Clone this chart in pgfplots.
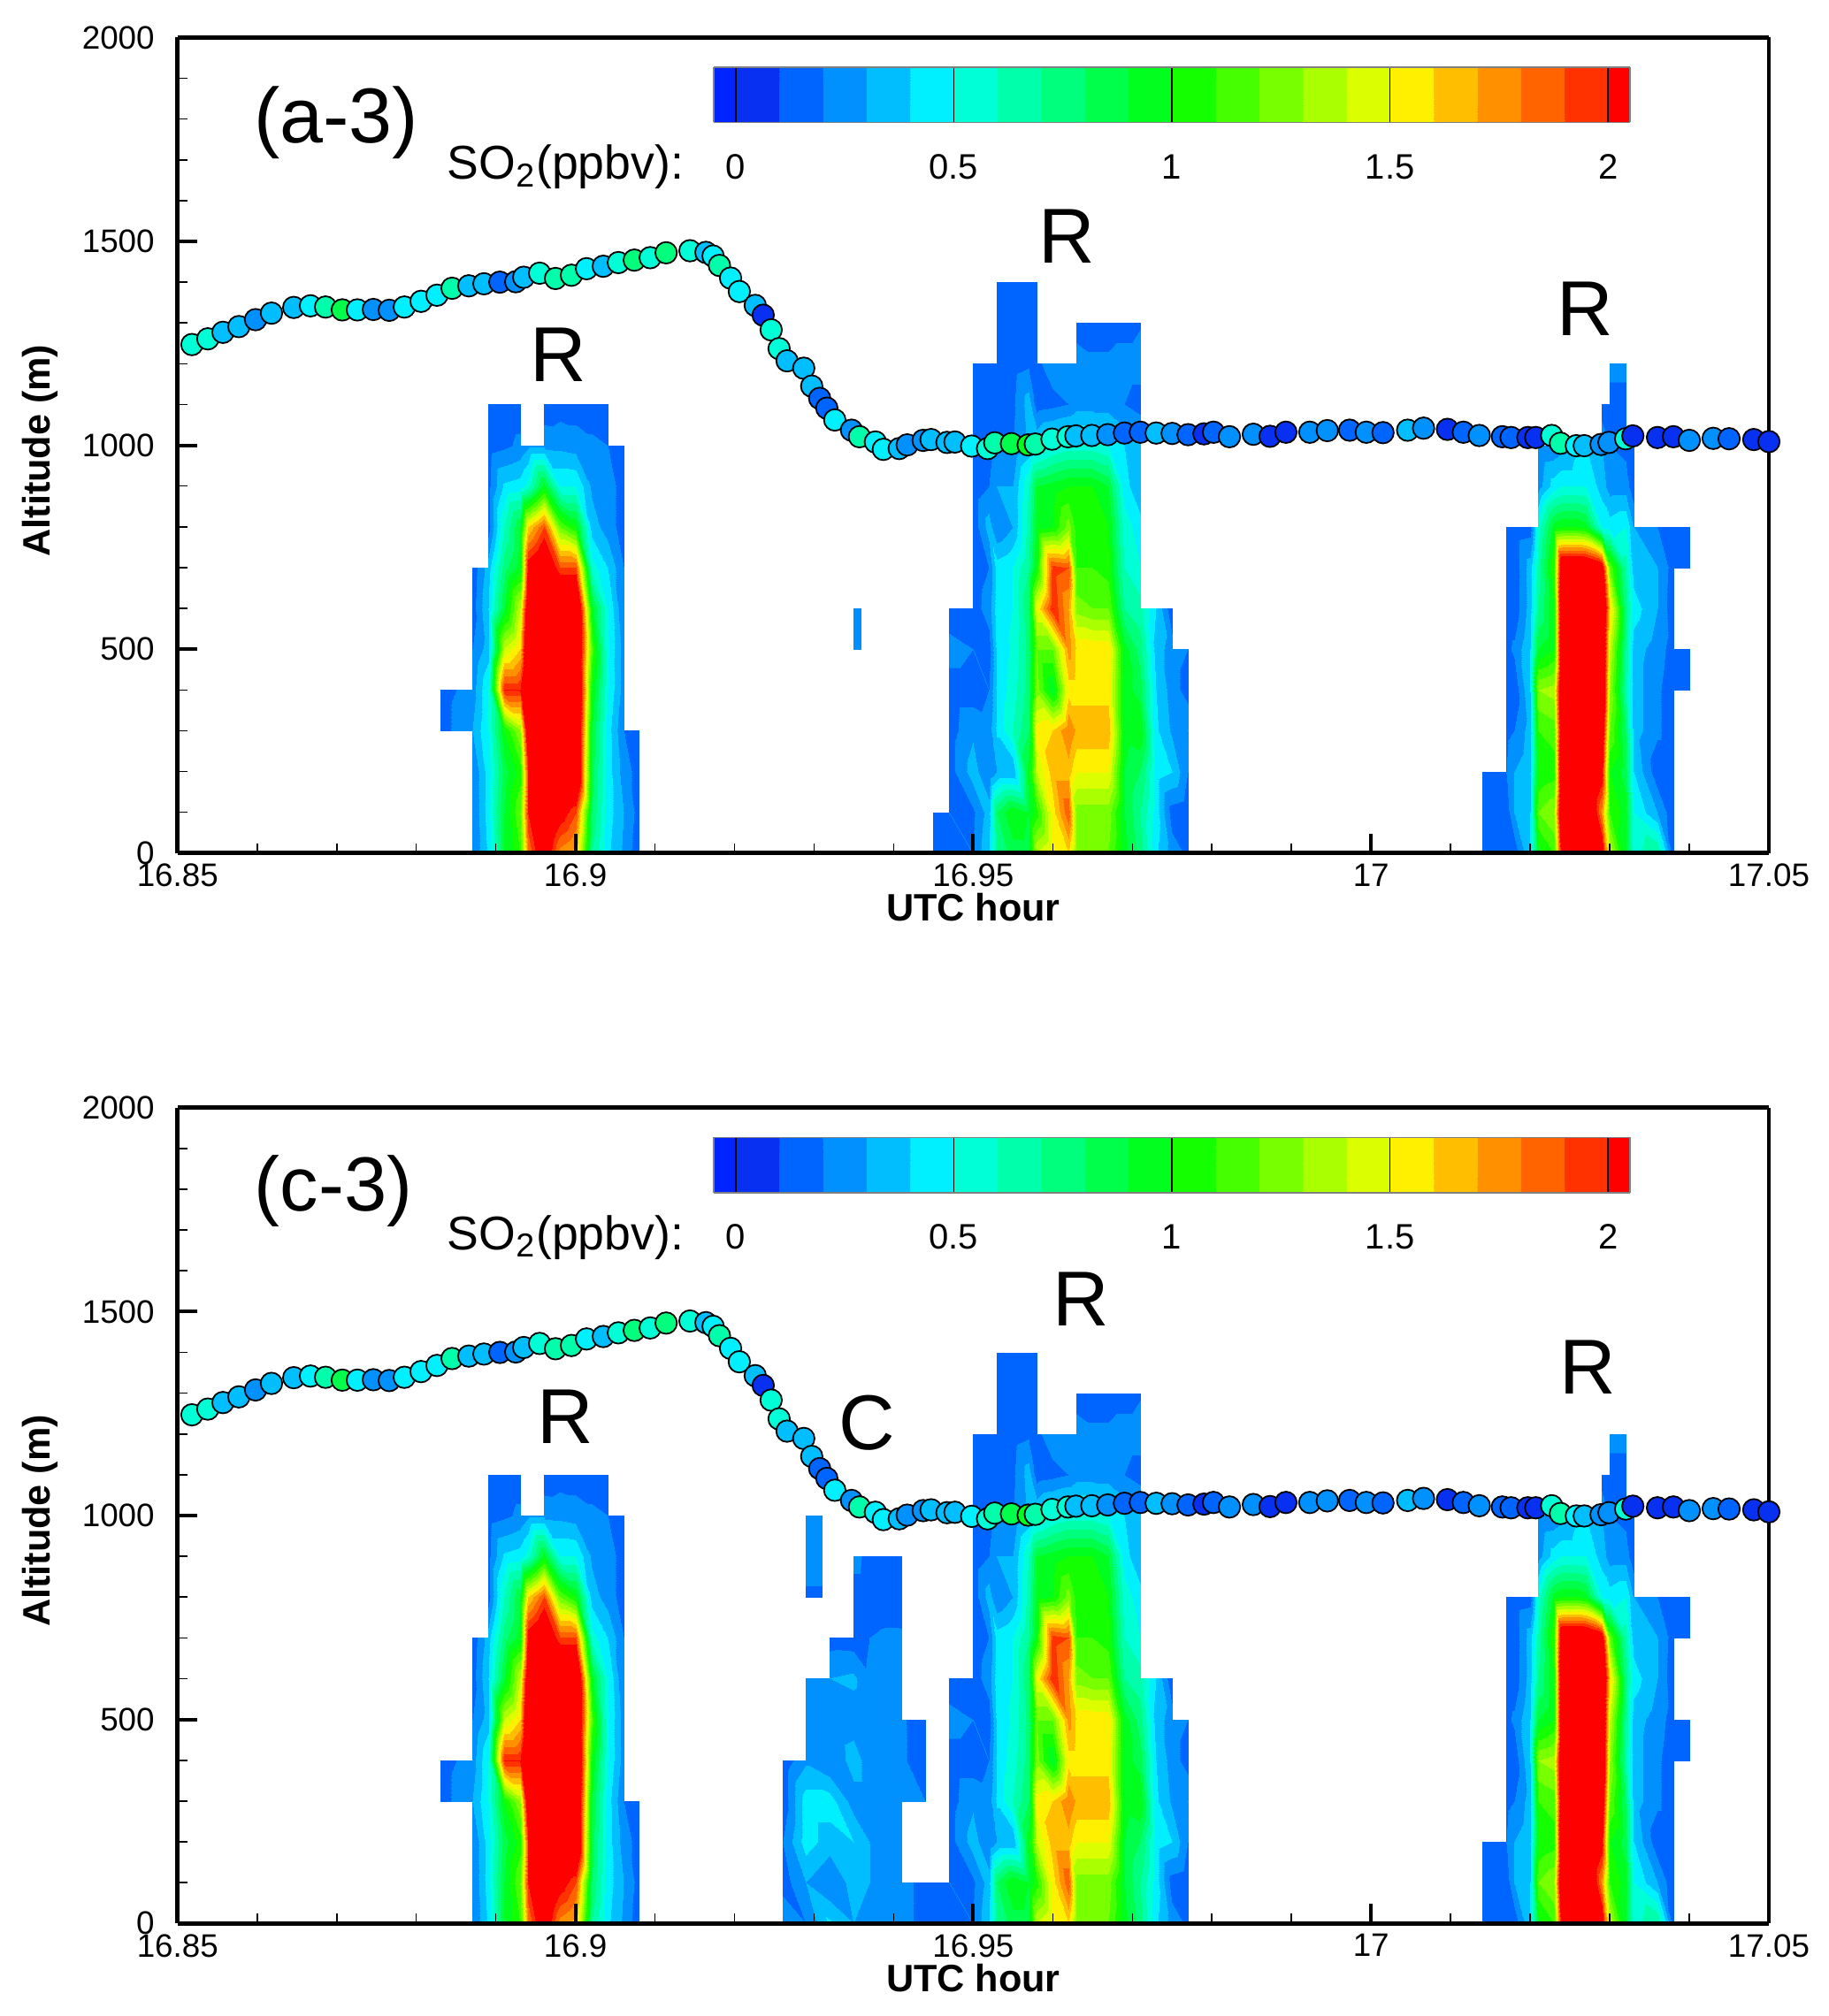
\documentclass[border=0pt]{standalone}
\usepackage{fontspec}
\setmainfont{Liberation Sans}
\usepackage{pgfplots}
\usepackage{pgfplotstable}
\pgfplotsset{compat=1.18}

% stepped colour scale, position = (value+0.05)*2000
\pgfplotsset{colormap={so2}{
 rgb255(0)=(0,36,255) rgb255(99)=(0,36,255)
 rgb255(100)=(8,48,240) rgb255(299)=(8,48,240)
 rgb255(300)=(0,100,255) rgb255(499)=(0,100,255)
 rgb255(500)=(0,145,255) rgb255(699)=(0,145,255)
 rgb255(700)=(0,190,255) rgb255(899)=(0,190,255)
 rgb255(900)=(0,240,255) rgb255(1099)=(0,240,255)
 rgb255(1100)=(0,255,215) rgb255(1299)=(0,255,215)
 rgb255(1300)=(0,255,170) rgb255(1499)=(0,255,170)
 rgb255(1500)=(0,255,125) rgb255(1699)=(0,255,125)
 rgb255(1700)=(0,255,75) rgb255(1899)=(0,255,75)
 rgb255(1900)=(0,255,30) rgb255(2099)=(0,255,30)
 rgb255(2100)=(20,255,0) rgb255(2299)=(20,255,0)
 rgb255(2300)=(70,255,0) rgb255(2499)=(70,255,0)
 rgb255(2500)=(120,255,0) rgb255(2699)=(120,255,0)
 rgb255(2700)=(170,255,0) rgb255(2899)=(170,255,0)
 rgb255(2900)=(220,255,0) rgb255(3099)=(220,255,0)
 rgb255(3100)=(255,240,0) rgb255(3299)=(255,240,0)
 rgb255(3300)=(255,190,0) rgb255(3499)=(255,190,0)
 rgb255(3500)=(255,145,0) rgb255(3699)=(255,145,0)
 rgb255(3700)=(255,100,0) rgb255(3899)=(255,100,0)
 rgb255(3900)=(255,50,0) rgb255(4099)=(255,50,0)
 rgb255(4100)=(255,0,0) rgb255(6100)=(255,0,0)
}}

\tikzset{txt/.style={font=\fontsize{22}{24}\selectfont}}

\pgfplotsset{
 fld/.style={surf, shader=interp, unbounded coords=jump, forget plot},
 main/.style={
  scale only axis, width=449.8pt, height=230.6pt, anchor=south west,
  view={0}{90}, axis on top,
  xmin=16.85, xmax=17.05, ymin=0, ymax=2000,
  xtick={16.85,16.9,16.95,17,17.05}, xticklabels={16.85,16.9,16.95,17,17.05},
  ytick={0,500,1000,1500,2000}, yticklabels={0,500,1000,1500,2000},
  minor x tick num=4, minor y tick num=4,
  xtick pos=bottom, ytick pos=left, ztick=\empty,
  tick align=inside, major tick length=5.5pt, minor tick length=2.8pt,
  major tick style={black, line width=1pt}, minor tick style={black, line width=.4pt},
  axis line style={line width=1.2pt},
  tick label style={font=\fontsize{9.2}{11}\selectfont},
  xticklabel style={yshift=.5pt}, yticklabel style={xshift=-3pt},
  xlabel={\bfseries UTC hour}, ylabel={\bfseries Altitude (m)},
  label style={font=\fontsize{10.8}{12}\selectfont},
  xlabel style={yshift=5pt}, ylabel style={yshift=0pt, xshift=-1.5pt},
  colormap name=so2, point meta min=-0.05, point meta max=3,
 },
 cbar/.style={
  scale only axis, width=258.9pt, height=15.6pt, anchor=south west,
  view={0}{90}, axis on top,
  xmin=-0.05, xmax=2.05, ymin=0, ymax=1,
  xtick={0,0.5,1,1.5,2}, xticklabels={0,0.5,1,1.5,2},
  ytick=\empty, ztick=\empty, xtick pos=bottom,
  major tick length=0pt, xmajorgrids, major grid style={black, line width=.35pt},
  axis line style={gray, line width=.4pt},
  tick label style={font=\fontsize{10}{12}\selectfont},
  xticklabel style={yshift=-5.5pt},
  colormap name=so2, point meta min=-0.05, point meta max=3,
 },
}

% flight track: time, altitude, SO2
\pgfplotstableread{
x y v
16.8499 1243 .35
16.8518 1247 .55
16.8538 1261 .55
16.8557 1277 .35
16.8577 1291 .35
16.8598 1308 .25
16.8618 1324 .35
16.8646 1338 .35
16.8667 1342 .45
16.8686 1339 .65
16.8707 1332 .8
16.8726 1332 .45
16.8746 1333 .25
16.8766 1331 .25
16.8785 1339 .45
16.8806 1353 .45
16.8826 1368 .45
16.8845 1385 .65
16.8866 1391 .35
16.8885 1396 .35
16.8905 1400 .15
16.8925 1401 .25
16.8935 1412 .35
16.8955 1422 .55
16.8975 1409 .65
16.8995 1417 .65
16.9014 1433 .45
16.9035 1439 .35
16.9054 1448 .55
16.9074 1454 .75
16.9094 1460 .55
16.9114 1472 .75
16.9144 1477 .55
16.9164 1473 .35
16.9173 1464 .45
16.9181 1441 .65
16.9195 1410 .45
16.9206 1377 .45
16.9226 1343 .35
16.9236 1319 .05
16.9246 1283 .55
16.9256 1237 .55
16.9266 1207 .35
16.9287 1189 .35
16.9297 1145 .35
16.9307 1115 .15
16.9316 1091 .15
16.9326 1062 .45
16.9347 1037 .25
16.9357 1021 .65
16.9377 1008 .45
16.9387 990 .45
16.9407 992 .35
16.9417 1001 .25
16.9437 1012 .25
16.9447 1014 .35
16.9467 1007 .35
16.9477 1008 .35
16.9498 998 .45
16.9518 992 .55
16.9527 1006 .6
16.9548 1004 .85
16.9569 1001 .95
16.9578 1003 .65
16.9599 1015 .55
16.9619 1021 .55
16.9629 1023 .35
16.9649 1024 .3
16.9669 1026 .25
16.9690 1030 .15
16.9710 1032 .15
16.9730 1030 .3
16.9750 1029 .25
16.9770 1026 .15
16.9790 1028 .05
16.9802 1032 .15
16.9822 1021 .25
16.9852 1027 .25
16.9873 1022 .05
16.9893 1032 .05
16.9923 1032 .25
16.9945 1036 .25
16.9973 1037 .15
16.9994 1032 .25
17.0015 1031 .15
17.0046 1037 .35
17.0066 1042 .25
17.0096 1039 .05
17.0116 1032 .15
17.0136 1024 .25
17.0165 1021 .15
17.0176 1019 .15
17.0197 1019 .05
17.0207 1019 .05
17.0227 1024 .55
17.0238 1005 .65
17.0258 999 .45
17.0268 999 .35
17.0289 1002 .25
17.0299 1007 .25
17.0320 1016 .5
17.0329 1023 .05
17.0360 1019 .05
17.0380 1021 .05
17.0400 1012 .25
17.0430 1017 .25
17.0450 1016 .15
17.0481 1014 .05
17.0500 1009 .05
}\track

\newcommand{\drawtrack}{%
 \addplot3[scatter, only marks, scatter src=z, mark=*, mark size=3.05pt,
  mark options={line width=.45pt},
  scatter/use mapped color={draw=black, fill=mapped color}]
  table[x=x, y=y, z=v] {\track};
}

% first plume
\newcommand{\plumeA}{%
\addplot3[fld, mesh/cols=13] coordinates {
(16.883,1100,nan)(16.887,1100,nan)(16.889,1100,.15)(16.891,1100,.15)(16.893,1100,.15)(16.894,1100,nan)(16.896,1100,.12)(16.898,1100,.15)(16.900,1100,.15)(16.902,1100,.15)(16.904,1100,.15)(16.906,1100,nan)(16.908,1100,nan)
(16.883,1000,nan)(16.887,1000,nan)(16.889,1000,.15)(16.891,1000,.18)(16.893,1000,.22)(16.894,1000,.28)(16.896,1000,.28)(16.898,1000,.27)(16.900,1000,.25)(16.902,1000,.22)(16.904,1000,.2)(16.906,1000,.15)(16.908,1000,nan)
(16.883,900,nan)(16.887,900,nan)(16.889,900,.17)(16.891,900,.42)(16.893,900,.45)(16.894,900,.55)(16.896,900,.95)(16.898,900,.5)(16.900,900,.5)(16.902,900,.28)(16.904,900,.25)(16.906,900,.15)(16.908,900,nan)
(16.883,800,nan)(16.887,800,nan)(16.889,800,.15)(16.891,800,.6)(16.893,800,.9)(16.894,800,1.6)(16.896,800,1.9)(16.898,800,1.2)(16.900,800,1)(16.902,800,.35)(16.904,800,.25)(16.906,800,.15)(16.908,800,nan)
(16.883,700,nan)(16.887,700,.13)(16.889,700,.35)(16.891,700,.75)(16.893,700,.95)(16.894,700,2.1)(16.896,700,2.3)(16.898,700,1.9)(16.900,700,1.9)(16.902,700,.55)(16.904,700,.4)(16.906,700,.2)(16.908,700,nan)
(16.883,600,nan)(16.887,600,.15)(16.889,600,.4)(16.891,600,.9)(16.893,600,1.4)(16.894,600,2.3)(16.896,600,2.5)(16.898,600,2.5)(16.900,600,2.5)(16.902,600,.95)(16.904,600,.5)(16.906,600,.2)(16.908,600,nan)
(16.883,500,nan)(16.887,500,.2)(16.889,500,.35)(16.891,500,1.4)(16.893,500,1.6)(16.894,500,2.5)(16.896,500,2.5)(16.898,500,2.5)(16.900,500,2.5)(16.902,500,1.15)(16.904,500,.5)(16.906,500,.25)(16.908,500,nan)
(16.883,400,.15)(16.887,400,.25)(16.889,400,.5)(16.891,400,2)(16.893,400,2)(16.894,400,2.6)(16.896,400,2.6)(16.898,400,2.6)(16.900,400,2.6)(16.902,400,1)(16.904,400,.5)(16.906,400,.25)(16.908,400,nan)
(16.883,300,.15)(16.887,300,.3)(16.889,300,.5)(16.891,300,1)(16.893,300,1.3)(16.894,300,2.3)(16.896,300,2.5)(16.898,300,2.5)(16.900,300,2.5)(16.902,300,.9)(16.904,300,.45)(16.906,300,.2)(16.908,300,.12)
(16.883,200,nan)(16.887,200,.2)(16.889,200,.45)(16.891,200,.85)(16.893,200,1.05)(16.894,200,2)(16.896,200,2.5)(16.898,200,2.5)(16.900,200,2.5)(16.902,200,.85)(16.904,200,.45)(16.906,200,.25)(16.908,200,.15)
(16.883,100,nan)(16.887,100,.2)(16.889,100,.45)(16.891,100,.9)(16.893,100,1.2)(16.894,100,2)(16.896,100,2.4)(16.898,100,2.1)(16.900,100,1.9)(16.902,100,.8)(16.904,100,.45)(16.906,100,.3)(16.908,100,.15)
(16.883,0,nan)(16.887,0,.2)(16.889,0,.42)(16.891,0,.9)(16.893,0,1.1)(16.894,0,1.8)(16.896,0,2.2)(16.898,0,1.75)(16.900,0,1.65)(16.902,0,.7)(16.904,0,.42)(16.906,0,.28)(16.908,0,.12)
};
}

% second plume
\newcommand{\plumeB}{%
\addplot3[fld, mesh/cols=18] coordinates {
(16.945,1400,nan)(16.947,1400,nan)(16.950,1400,nan)(16.952,1400,nan)(16.953,1400,.15)(16.955,1400,.15)(16.957,1400,.15)(16.958,1400,.15)(16.960,1400,nan)(16.962,1400,nan)(16.963,1400,nan)(16.965,1400,nan)(16.967,1400,nan)(16.969,1400,nan)(16.971,1400,nan)(16.973,1400,nan)(16.975,1400,nan)(16.977,1400,nan)
(16.945,1300,nan)(16.947,1300,nan)(16.950,1300,nan)(16.952,1300,nan)(16.953,1300,.15)(16.955,1300,.15)(16.957,1300,.15)(16.958,1300,.15)(16.960,1300,nan)(16.962,1300,nan)(16.963,1300,.15)(16.965,1300,.15)(16.967,1300,.15)(16.969,1300,.15)(16.971,1300,.19)(16.973,1300,nan)(16.975,1300,nan)(16.977,1300,nan)
(16.945,1200,nan)(16.947,1200,nan)(16.950,1200,.15)(16.952,1200,.15)(16.953,1200,.15)(16.955,1200,.15)(16.957,1200,.18)(16.958,1200,.18)(16.960,1200,.25)(16.962,1200,.25)(16.963,1200,.25)(16.965,1200,.22)(16.967,1200,.22)(16.969,1200,.25)(16.971,1200,.25)(16.973,1200,nan)(16.975,1200,nan)(16.977,1200,nan)
(16.945,1100,nan)(16.947,1100,nan)(16.950,1100,.13)(16.952,1100,.13)(16.953,1100,.13)(16.955,1100,.18)(16.957,1100,.35)(16.958,1100,.15)(16.960,1100,.17)(16.962,1100,.2)(16.963,1100,.25)(16.965,1100,.25)(16.967,1100,.25)(16.969,1100,.2)(16.971,1100,.15)(16.973,1100,nan)(16.975,1100,nan)(16.977,1100,nan)
(16.945,1000,nan)(16.947,1000,nan)(16.950,1000,.13)(16.952,1000,.15)(16.953,1000,.18)(16.955,1000,.2)(16.957,1000,.32)(16.958,1000,.4)(16.960,1000,.5)(16.962,1000,.55)(16.963,1000,.55)(16.965,1000,.55)(16.967,1000,.5)(16.969,1000,.4)(16.971,1000,.35)(16.973,1000,nan)(16.975,1000,nan)(16.977,1000,nan)
(16.945,900,nan)(16.947,900,nan)(16.950,900,.13)(16.952,900,.2)(16.953,900,.3)(16.955,900,.3)(16.957,900,.6)(16.958,900,.9)(16.960,900,.95)(16.962,900,1)(16.963,900,1)(16.965,900,1)(16.967,900,.9)(16.969,900,.45)(16.971,900,.3)(16.973,900,nan)(16.975,900,nan)(16.977,900,nan)
(16.945,800,nan)(16.947,800,nan)(16.950,800,.13)(16.952,800,.35)(16.953,800,.2)(16.955,800,.3)(16.957,800,.65)(16.958,800,.95)(16.960,800,1)(16.962,800,1.25)(16.963,800,1.05)(16.965,800,1.05)(16.967,800,1)(16.969,800,.55)(16.971,800,.45)(16.973,800,nan)(16.975,800,nan)(16.977,800,nan)
(16.945,700,nan)(16.947,700,nan)(16.950,700,.14)(16.952,700,.2)(16.953,700,.45)(16.955,700,.5)(16.957,700,.7)(16.958,700,1)(16.960,700,1.95)(16.962,700,1.9)(16.963,700,1.1)(16.965,700,1.1)(16.967,700,1.05)(16.969,700,.6)(16.971,700,.5)(16.973,700,nan)(16.975,700,nan)(16.977,700,nan)
(16.945,600,nan)(16.947,600,.12)(16.950,600,.15)(16.952,600,.25)(16.953,600,.45)(16.955,600,.5)(16.957,600,.8)(16.958,600,1.5)(16.960,600,2)(16.962,600,1.7)(16.963,600,1.25)(16.965,600,1.2)(16.967,600,1.2)(16.969,600,.7)(16.971,600,.65)(16.973,600,.4)(16.975,600,.12)(16.977,600,nan)
(16.945,500,nan)(16.947,500,.25)(16.950,500,.2)(16.952,500,.15)(16.953,500,.42)(16.955,500,.52)(16.957,500,.75)(16.958,500,1.2)(16.960,500,1.2)(16.962,500,1.75)(16.963,500,1.58)(16.965,500,1.58)(16.967,500,1.58)(16.969,500,.95)(16.971,500,.75)(16.973,500,.35)(16.975,500,.25)(16.977,500,.2)
(16.945,400,nan)(16.947,400,.14)(16.950,400,.14)(16.952,400,.2)(16.953,400,.42)(16.955,400,.55)(16.957,400,.75)(16.958,400,1.25)(16.960,400,.9)(16.962,400,1.55)(16.963,400,1.55)(16.965,400,1.55)(16.967,400,1.55)(16.969,400,.95)(16.971,400,.85)(16.973,400,.4)(16.975,400,.25)(16.977,400,.15)
(16.945,300,nan)(16.947,300,.15)(16.950,300,.28)(16.952,300,.25)(16.953,300,.42)(16.955,300,.6)(16.957,300,.8)(16.958,300,1.55)(16.960,300,1.6)(16.962,300,1.8)(16.963,300,1.68)(16.965,300,1.68)(16.967,300,1.68)(16.969,300,.95)(16.971,300,1)(16.973,300,.42)(16.975,300,.28)(16.977,300,.3)
(16.945,200,nan)(16.947,200,.15)(16.950,200,.35)(16.952,200,.2)(16.953,200,.3)(16.955,200,.3)(16.957,200,.95)(16.958,200,1.4)(16.960,200,1.65)(16.962,200,1.65)(16.963,200,1.5)(16.965,200,1.5)(16.967,200,1.5)(16.969,200,.9)(16.971,200,.8)(16.973,200,.45)(16.975,200,.4)(16.977,200,.2)
(16.945,100,.13)(16.947,100,.2)(16.950,100,.18)(16.952,100,.35)(16.953,100,.8)(16.955,100,1)(16.957,100,.9)(16.958,100,1.05)(16.960,100,1.55)(16.962,100,1.88)(16.963,100,1.25)(16.965,100,1.25)(16.967,100,1.25)(16.969,100,.9)(16.971,100,.7)(16.973,100,.45)(16.975,100,.15)(16.977,100,.12)
(16.945,0,.13)(16.947,0,.14)(16.950,0,.2)(16.952,0,.4)(16.953,0,.7)(16.955,0,.85)(16.957,0,.85)(16.958,0,1.4)(16.960,0,1.55)(16.962,0,1.6)(16.963,0,1.25)(16.965,0,1.2)(16.967,0,1.2)(16.969,0,.95)(16.971,0,.75)(16.973,0,.42)(16.975,0,.25)(16.977,0,.18)
};
}

% third plume
\newcommand{\plumeC}{%
\addplot3[fld, mesh/cols=16] coordinates {
(17.014,1200,nan)(17.017,1200,nan)(17.018,1200,nan)(17.020,1200,nan)(17.021,1200,nan)(17.023,1200,nan)(17.024,1200,nan)(17.026,1200,nan)(17.027,1200,nan)(17.029,1200,nan)(17.030,1200,.25)(17.032,1200,.25)(17.033,1200,nan)(17.036,1200,nan)(17.038,1200,nan)(17.040,1200,nan)
(17.014,1100,nan)(17.017,1100,nan)(17.018,1100,nan)(17.020,1100,nan)(17.021,1100,nan)(17.023,1100,nan)(17.024,1100,nan)(17.026,1100,nan)(17.027,1100,nan)(17.029,1100,.13)(17.030,1100,.14)(17.032,1100,.14)(17.033,1100,nan)(17.036,1100,nan)(17.038,1100,nan)(17.040,1100,nan)
(17.014,1000,nan)(17.017,1000,nan)(17.018,1000,nan)(17.020,1000,nan)(17.021,1000,.2)(17.023,1000,.22)(17.024,1000,.25)(17.026,1000,.4)(17.027,1000,.4)(17.029,1000,.3)(17.030,1000,.2)(17.032,1000,.17)(17.033,1000,.14)(17.036,1000,nan)(17.038,1000,nan)(17.040,1000,nan)
(17.014,900,nan)(17.017,900,nan)(17.018,900,nan)(17.020,900,nan)(17.021,900,.25)(17.023,900,.45)(17.024,900,.5)(17.026,900,.5)(17.027,900,.5)(17.029,900,.35)(17.030,900,.25)(17.032,900,.25)(17.033,900,.13)(17.036,900,nan)(17.038,900,nan)(17.040,900,nan)
(17.014,800,nan)(17.017,800,.13)(17.018,800,.13)(17.020,800,.15)(17.021,800,.55)(17.023,800,.95)(17.024,800,1)(17.026,800,1)(17.027,800,.95)(17.029,800,.5)(17.030,800,.45)(17.032,800,.5)(17.033,800,.3)(17.036,800,.2)(17.038,800,.15)(17.040,800,.13)
(17.014,700,nan)(17.017,700,.13)(17.018,700,.13)(17.020,700,.35)(17.021,700,.65)(17.023,700,1.1)(17.024,700,2.4)(17.026,700,2.4)(17.027,700,2.4)(17.029,700,2.2)(17.030,700,1.2)(17.032,700,.65)(17.033,700,.35)(17.036,700,.3)(17.038,700,.15)(17.040,700,.13)
(17.014,600,nan)(17.017,600,.13)(17.018,600,.13)(17.020,600,.35)(17.021,600,.7)(17.023,600,1)(17.024,600,2.5)(17.026,600,2.5)(17.027,600,2.5)(17.029,600,2.5)(17.030,600,1.6)(17.032,600,.75)(17.033,600,.45)(17.036,600,.3)(17.038,600,.13)(17.040,600,nan)
(17.014,500,nan)(17.017,500,.17)(17.018,500,.22)(17.020,500,.4)(17.021,500,.9)(17.023,500,1)(17.024,500,2.5)(17.026,500,2.5)(17.027,500,2.5)(17.029,500,2.5)(17.030,500,1.4)(17.032,500,.7)(17.033,500,.35)(17.036,500,.25)(17.038,500,.15)(17.040,500,.13)
(17.014,400,nan)(17.017,400,.13)(17.018,400,.13)(17.020,400,.4)(17.021,400,1.3)(17.023,400,1.35)(17.024,400,2.5)(17.026,400,2.5)(17.027,400,2.5)(17.029,400,2.5)(17.030,400,1.3)(17.032,400,.65)(17.033,400,.35)(17.036,400,.22)(17.038,400,.13)(17.040,400,.13)
(17.014,300,nan)(17.017,300,.17)(17.018,300,.2)(17.020,300,.35)(17.021,300,1.1)(17.023,300,1.15)(17.024,300,2.4)(17.026,300,2.5)(17.027,300,2.5)(17.029,300,2.3)(17.030,300,1.2)(17.032,300,.8)(17.033,300,.35)(17.036,300,.22)(17.038,300,.13)(17.040,300,nan)
(17.014,200,.13)(17.017,200,.2)(17.018,200,.3)(17.020,200,.38)(17.021,200,1)(17.023,200,1.05)(17.024,200,2.5)(17.026,200,2.5)(17.027,200,2.5)(17.029,200,2.1)(17.030,200,1)(17.032,200,.85)(17.033,200,.4)(17.036,200,.13)(17.038,200,.13)(17.040,200,nan)
(17.014,100,.13)(17.017,100,.14)(17.018,100,.3)(17.020,100,.4)(17.021,100,1.2)(17.023,100,1.3)(17.024,100,2.5)(17.026,100,2.5)(17.027,100,2.5)(17.029,100,1.75)(17.030,100,1.1)(17.032,100,.95)(17.033,100,.5)(17.036,100,.3)(17.038,100,.12)(17.040,100,nan)
(17.014,0,.2)(17.017,0,.15)(17.018,0,.13)(17.020,0,.4)(17.021,0,.95)(17.023,0,1.1)(17.024,0,2.2)(17.026,0,2.5)(17.027,0,2.5)(17.029,0,2.2)(17.030,0,1.4)(17.032,0,.9)(17.033,0,.55)(17.036,0,.7)(17.038,0,.15)(17.040,0,nan)
};
}

\newcommand{\colorbarplot}{%
\addplot3[surf, shader=interp, mesh/cols=2, forget plot] coordinates {
(-0.05,0,-0.05)(2.05,0,2.05)
(-0.05,1,-0.05)(2.05,1,2.05)
};
}

\begin{document}
\begin{tikzpicture}[x=1pt,y=1pt]
\path[use as bounding box] (0,0) rectangle (516.75,570);

% panel a-3
\begin{axis}[main, at={(50.2pt,328.8pt)}]
\plumeA
\plumeB
\plumeC
\addplot3[fld, mesh/cols=2] coordinates {
(16.9349,600,.2)(16.9359,600,.2)
(16.9349,500,.2)(16.9359,500,.2)
};
\drawtrack
\node[anchor=west, inner sep=0pt, font=\fontsize{22}{24}\selectfont] at (axis description cs:.0477,.896) {(a-3)};
\node[inner sep=0pt, font=\fontsize{13.4}{16}\selectfont, anchor=base east] at (axis description cs:.3185,.826) {SO\textsubscript{2}(ppbv):};
\node[txt] at (axis description cs:.2393,.6115) {R};
\node[txt] at (axis description cs:.5586,.7565) {R};
\node[txt] at (axis description cs:.8844,.667) {R};
\end{axis}
\begin{axis}[cbar, at={(201.8pt,535.4pt)}]
\colorbarplot
\end{axis}

% panel c-3
\begin{axis}[main, at={(50.2pt,26.2pt)}]
\plumeA
\plumeB
\plumeC
\addplot3[fld, mesh/cols=2] coordinates {
(16.929,1000,.25)(16.931,1000,.25)
(16.929,900,.28)(16.931,900,.28)
(16.929,800,.17)(16.931,800,.17)
};
\addplot3[fld, mesh/cols=9] coordinates {
(16.926,900,nan)(16.929,900,nan)(16.932,900,nan)(16.935,900,.25)(16.937,900,.15)(16.939,900,.13)(16.941,900,.13)(16.944,900,nan)(16.945,900,nan)
(16.926,800,nan)(16.929,800,nan)(16.932,800,nan)(16.935,800,.13)(16.937,800,.13)(16.939,800,.14)(16.941,800,.13)(16.944,800,nan)(16.945,800,nan)
(16.926,700,nan)(16.929,700,nan)(16.932,700,.15)(16.935,700,.14)(16.937,700,.2)(16.939,700,.22)(16.941,700,.22)(16.944,700,nan)(16.945,700,nan)
(16.926,600,nan)(16.929,600,.2)(16.932,600,.3)(16.935,600,.32)(16.937,600,.22)(16.939,600,.22)(16.941,600,.22)(16.944,600,nan)(16.945,600,nan)
(16.926,500,nan)(16.929,500,.2)(16.932,500,.22)(16.935,500,.25)(16.937,500,.22)(16.939,500,.22)(16.941,500,.22)(16.944,500,.12)(16.945,500,nan)
(16.926,400,.13)(16.929,400,.28)(16.932,400,.2)(16.935,400,.35)(16.937,400,.25)(16.939,400,.22)(16.941,400,.22)(16.944,400,.13)(16.945,400,nan)
(16.926,300,.13)(16.929,300,.45)(16.932,300,.45)(16.935,300,.25)(16.937,300,.25)(16.939,300,.22)(16.941,300,.22)(16.944,300,.2)(16.945,300,nan)
(16.926,200,.2)(16.929,200,.45)(16.932,200,.35)(16.935,200,.4)(16.937,200,.3)(16.939,200,.22)(16.941,200,.22)(16.944,200,nan)(16.945,200,nan)
(16.926,100,.15)(16.929,100,.3)(16.932,100,.2)(16.935,100,.35)(16.937,100,.3)(16.939,100,.22)(16.941,100,.25)(16.944,100,.15)(16.945,100,.13)
(16.926,0,.3)(16.929,0,.2)(16.932,0,.42)(16.935,0,.3)(16.937,0,.25)(16.939,0,.25)(16.941,0,.25)(16.944,0,.15)(16.945,0,.13)
};
\drawtrack
\node[anchor=west, inner sep=0pt, font=\fontsize{21.7}{24}\selectfont] at (axis description cs:.048,.898) {(c-3)};
\node[inner sep=0pt, font=\fontsize{13.4}{16}\selectfont, anchor=base east] at (axis description cs:.3185,.826) {SO\textsubscript{2}(ppbv):};
\node[txt] at (axis description cs:.2435,.6215) {R};
\node[txt] at (axis description cs:.5675,.765) {R};
\node[txt] at (axis description cs:.886,.6815) {R};
\node[txt] at (axis description cs:.4333,.6135) {C};
\end{axis}
\begin{axis}[cbar, at={(201.8pt,232.8pt)}]
\colorbarplot
\end{axis}
\end{tikzpicture}
\end{document}
